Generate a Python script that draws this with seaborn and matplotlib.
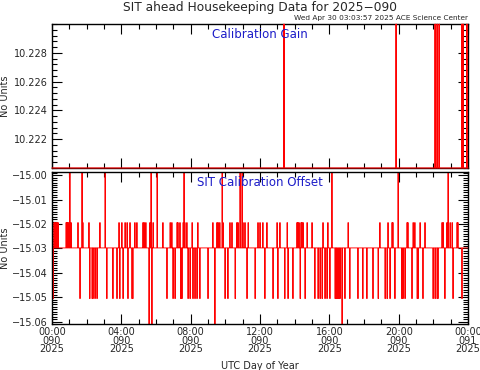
import numpy as np
import pandas as pd
import matplotlib
matplotlib.use("Agg")
import matplotlib.pyplot as plt
import seaborn as sns
from matplotlib.ticker import MultipleLocator, FixedLocator

# --- data (hours of day 090) ---
gain_base = 10.2200
gain_high = 10.2300
gain_spike_hours = [13.38, 19.85, 22.10, 22.21, 22.33, 23.65, 23.71, 23.94]

offset_base = -15.0298
offset_hi1 = -15.0194
offset_hi2 = -14.9986
offset_lo2 = -15.0506
offset_lo3 = -15.0610

hi1_hours = [0.06, 0.12, 0.17, 0.23, 0.29, 0.35, 0.81, 0.87, 0.92, 0.98, 1.04, 1.10,
             1.50, 1.62, 1.79, 2.13, 2.31, 2.37, 2.48, 2.60, 2.77, 3.06, 3.75, 3.87,
             4.04, 4.10, 4.21, 4.33, 4.38, 4.50, 4.62, 4.67, 4.79, 4.90, 5.25, 5.31,
             5.42, 5.65, 5.83, 6.40, 6.63, 6.81, 6.92, 6.98, 7.10, 7.21, 7.27, 7.38,
             7.50, 7.56, 7.67, 7.79, 7.85, 7.96, 8.08, 8.25, 8.37, 8.42, 8.54, 9.29,
             9.40, 9.52, 9.58, 9.69, 9.81, 9.87, 9.98, 10.27, 10.38, 10.56, 10.67,
             10.73, 10.85, 11.02, 11.13, 11.31, 11.71, 11.88, 12.00, 12.17, 12.40,
             12.75, 12.98, 13.04, 13.15, 13.56, 14.13, 14.19, 14.25, 14.31, 14.37,
             14.42, 14.48, 14.60, 14.71, 15.00, 15.35, 15.58, 15.63, 15.75, 15.87,
             15.92, 16.04, 16.15, 16.33, 16.44, 16.50, 16.62, 17.08, 17.19, 18.81,
             18.92, 19.21, 19.33, 19.38, 19.50, 19.62, 19.67, 19.79, 20.25, 20.37,
             20.48, 20.54, 20.77, 20.83, 20.94, 21.23, 21.52, 22.50, 22.56, 22.67,
             22.79, 22.96, 23.08, 23.13, 23.37, 23.42, 23.65]
hi2_hours = [1.04, 1.73, 3.06, 5.71, 6.06, 7.62, 9.81, 10.85, 10.96, 16.15, 19.96, 22.85]
lo2_hours = [0.06, 1.62, 1.73, 2.19, 2.31, 2.37, 2.48, 2.60, 3.17, 3.52, 3.75, 3.92,
             4.10, 4.38, 4.62, 4.67, 6.63, 6.98, 7.10, 7.44, 7.50, 7.85, 7.96, 8.13,
             8.25, 8.37, 8.54, 9.00, 9.98, 10.15, 10.56, 10.96, 11.25, 11.71, 12.29,
             12.75, 13.04, 13.44, 13.62, 13.90, 14.31, 14.60, 15.17, 15.35, 15.46,
             15.58, 15.75, 15.87, 16.04, 16.15, 16.33, 16.38, 16.44, 16.50, 16.56,
             16.62, 16.90, 17.19, 17.65, 17.94, 18.17, 18.52, 18.81, 19.21, 19.33,
             19.50, 19.79, 20.19, 20.25, 20.37, 20.77, 21.06, 21.12, 21.40, 21.98,
             22.10, 22.21, 22.27, 22.67, 22.85, 23.13, 23.65]
lo3_hours = [5.60, 5.77, 9.40, 16.73]

x_tick_labels = ["00:00\n090\n2025", "04:00\n090\n2025", "08:00\n090\n2025",
                 "12:00\n090\n2025", "16:00\n090\n2025", "20:00\n090\n2025",
                 "00:00\n091\n2025"]


def build_series(base, level_lists):
    hours = np.arange(0, 24 * 60 + 1) / 60.0
    vals = np.full(hours.shape, base)
    for hrs, level in level_lists:
        idx = np.clip(np.round(np.array(hrs) * 60).astype(int), 0, len(hours) - 1)
        vals[idx] = level
    return pd.DataFrame({"hour": hours, "value": vals})


gain_df = build_series(gain_base, [(gain_spike_hours, gain_high)])
offset_df = build_series(offset_base, [(hi1_hours, offset_hi1), (lo2_hours, offset_lo2),
                                       (hi2_hours, offset_hi2), (lo3_hours, offset_lo3)])

sns.set_style("ticks")
plt.rcParams["font.family"] = ["DejaVu Sans"]

fig = plt.figure(figsize=(4.81, 3.70), dpi=100)
ax1 = fig.add_axes([0.1081, 0.546, 0.865, 0.389])
ax2 = fig.add_axes([0.1081, 0.1243, 0.865, 0.4113])

sns.lineplot(data=gain_df, x="hour", y="value", ax=ax1, color="red",
             linewidth=0.65, estimator=None, sort=False)
sns.lineplot(data=offset_df, x="hour", y="value", ax=ax2, color="red",
             linewidth=0.65, estimator=None, sort=False)
for ln in ax1.lines:
    ln.set_clip_on(False)
    ln.set_zorder(3)
    ln.set_linewidth(0.8)

ax1.set_ylim(gain_base, gain_high)
ax2.set_ylim(offset_lo3, offset_hi2)

for ax in (ax1, ax2):
    ax.set_xlim(0, 24)
    ax.xaxis.set_major_locator(MultipleLocator(4))
    ax.xaxis.set_minor_locator(MultipleLocator(1))
    ax.tick_params(which="both", direction="in", top=True, right=True,
                   labelsize=7, width=0.8, color="black")
    ax.tick_params(which="major", length=7)
    ax.tick_params(which="minor", length=3.5)
    ax.tick_params(axis="y", pad=3)
    for sp in ax.spines.values():
        sp.set_linewidth(1.0)
        sp.set_color("black")
    ax.set_ylabel("No Units", fontsize=7)
    ax.yaxis.set_label_coords(-0.102, 0.5)
    ax.set_xlabel("")

ax1.yaxis.set_major_locator(FixedLocator([10.222, 10.224, 10.226, 10.228]))
ax1.yaxis.set_minor_locator(MultipleLocator(0.0004))
ax1.set_yticklabels(["10.222", "10.224", "10.226", "10.228"])
ax1.set_xticklabels([])

ax2.yaxis.set_major_locator(FixedLocator([-15.06, -15.05, -15.04, -15.03, -15.02, -15.01, -15.00]))
ax2.yaxis.set_minor_locator(MultipleLocator(0.001))
ax2.set_yticklabels(["\u221215.06", "\u221215.05", "\u221215.04", "\u221215.03",
                     "\u221215.02", "\u221215.01", "\u221215.00"])
ax2.set_xticks(range(0, 25, 4))
ax2.set_xticklabels(x_tick_labels, linespacing=0.85, fontsize=7)
ax2.tick_params(axis="x", pad=2)
ax2.set_xlabel("UTC Day of Year", fontsize=7, labelpad=5)

ax1.text(0.5, 0.975, "Calibration Gain", transform=ax1.transAxes, ha="center",
         va="top", color="#1c1cc8", fontsize=8.5)
ax2.text(0.5, 0.975, "SIT Calibration Offset", transform=ax2.transAxes, ha="center",
         va="top", color="#1c1cc8", fontsize=8.5)

fig.text(0.54, 0.998, "SIT ahead Housekeeping Data for 2025\u2212090", ha="center",
         va="top", fontsize=8.8)
fig.text(0.973, 0.942, "Wed Apr 30 03:03:57 2025 ACE Science Center", ha="right",
         va="bottom", fontsize=5.3)

fig.savefig("out.png", dpi=100)
